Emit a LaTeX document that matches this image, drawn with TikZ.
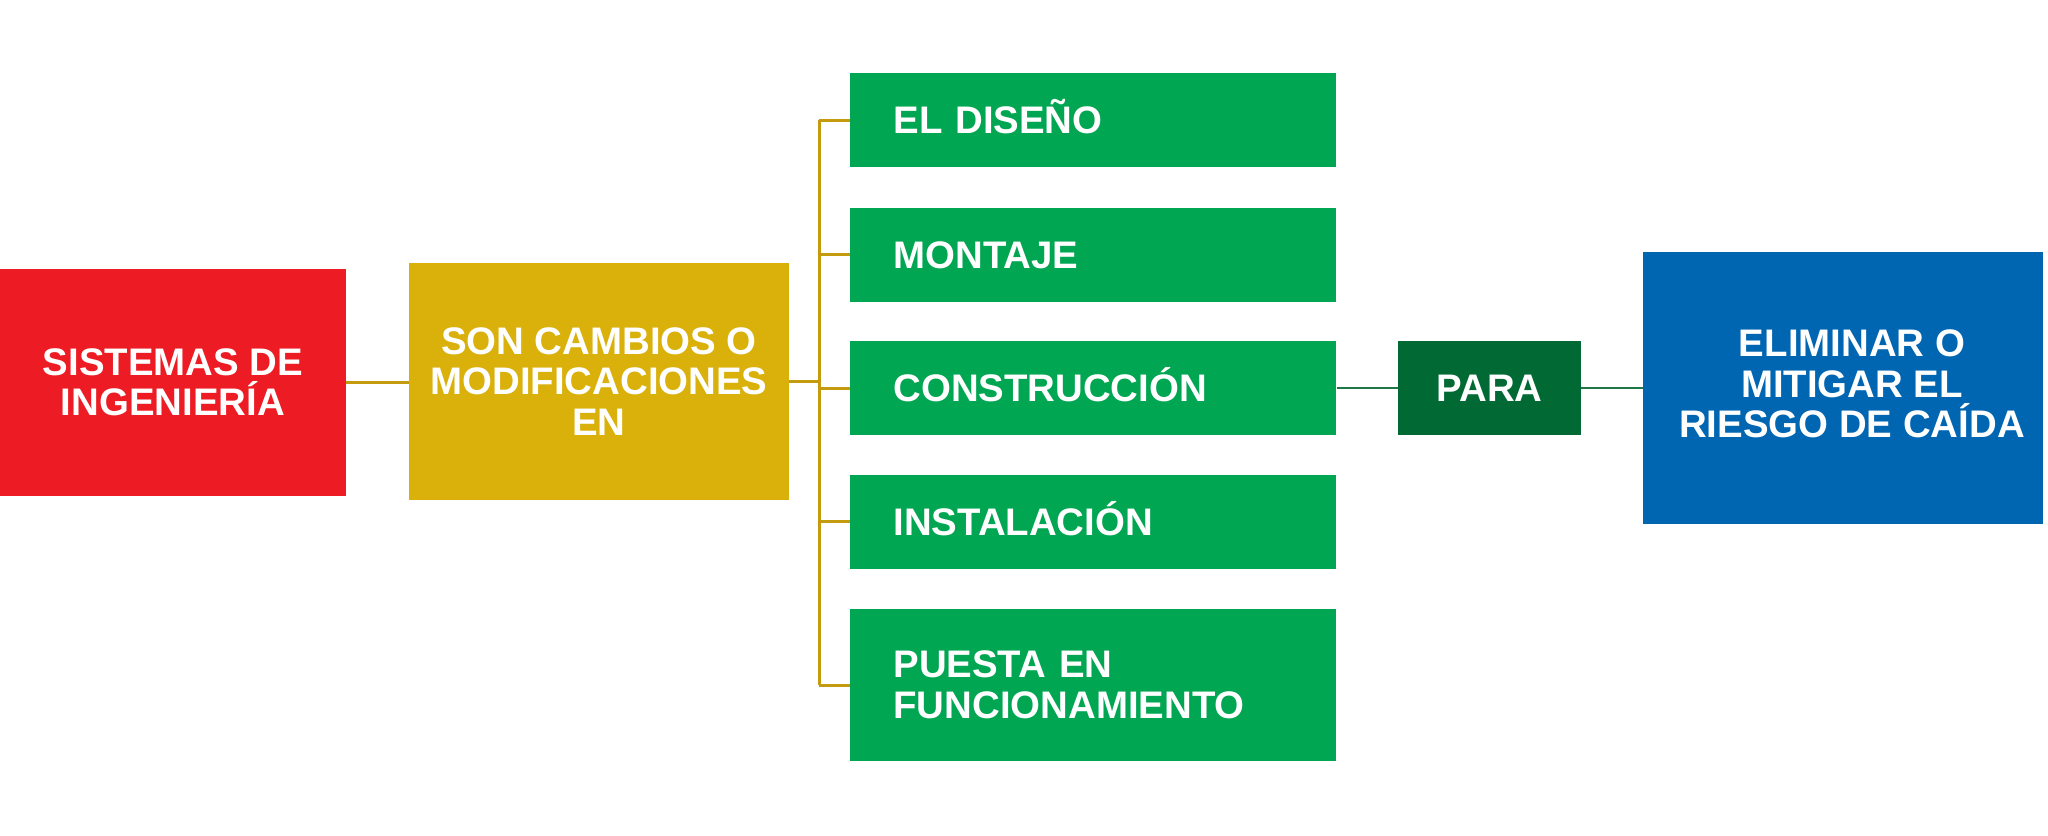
\documentclass[tikz,border=0pt]{standalone}
\usepackage{fontspec}
\setmainfont{Liberation Sans}
\usetikzlibrary{positioning}
\definecolor{rojo}{HTML}{ED1C24}
\definecolor{mostaza}{HTML}{DAB00B}
\definecolor{verde}{HTML}{00A651}
\definecolor{verdeosc}{HTML}{006934}
\definecolor{azul}{HTML}{0066B2}
\definecolor{oro}{HTML}{C49A0E}
\definecolor{lineaverde}{HTML}{1F7746}

\begin{document}
\begin{tikzpicture}[x=0.5pt,y=-0.5pt,
		letra/.style={text=white,font=\fontsize{19.2pt}{20.25pt}\selectfont\bfseries},
		caja/.style={letra,fill=#1,align=center,inner sep=0pt},
		paso/.style={letra,fill=verde,anchor=west,text width=200pt,align=left,inner xsep=21.5pt,inner ysep=0pt,minimum height=47pt},
		unalinea/.style={text height=13.8pt,text depth=0pt},
		enlace/.style={draw=oro,line width=1.5pt},
		enlaceb/.style={draw=lineaverde,line width=1.4pt}]
		\useasboundingbox (0,0) rectangle (2048,835);
		\node[caja=rojo,minimum width=173pt,minimum height=113.5pt] (sis) at (173,382.5) {SISTEMAS DE\\INGENIERÍA};
		\node[caja=mostaza,minimum width=190pt,minimum height=118.5pt] (camb) at (599,381.5) {SON CAMBIOS O\\MODIFICACIONES\\EN};
		\node[paso,unalinea] (dis) at (850,120) {EL DISEÑO};
		\node[paso,unalinea] (mon) at (850,254.5) {MONTAJE};
		\node[paso,unalinea] (con) at (850,388) {CONSTRUCCIÓN};
		\node[paso,unalinea] (ins) at (850,521.5) {INSTALACIÓN};
		\node[paso,minimum height=76pt] (pue) at (850,685) {PUESTA EN\\FUNCIONAMIENTO};
		\node[caja=verdeosc,unalinea,minimum width=91.5pt,minimum height=47pt] (para) at (1489.5,388) {PARA};
		\node[caja=azul,minimum width=200pt,minimum height=136pt] (meta) at (1843,388) {};
		\node[letra,align=center] (metatxt) at ([xshift=4.5pt,yshift=2pt]meta.center) {ELIMINAR O\\MITIGAR EL\\RIESGO DE CAÍDA};
		\coordinate (bus) at (819,0);
		\draw[enlace] (sis.east) -- (sis.east -| camb.west);
		\draw[enlace] (camb.east) -- (bus |- camb.east);
		\draw[enlace] (bus |- dis.west) -- (bus |- pue.west);
		\foreach \n in {dis,mon,con,ins,pue}
			\draw[enlace] (bus |- \n.west) -- (\n.west);
		\draw[enlaceb] (con.east) -- (para.west);
		\draw[enlaceb] (para.east) -- (meta.west);
	\end{tikzpicture}
\end{document}
